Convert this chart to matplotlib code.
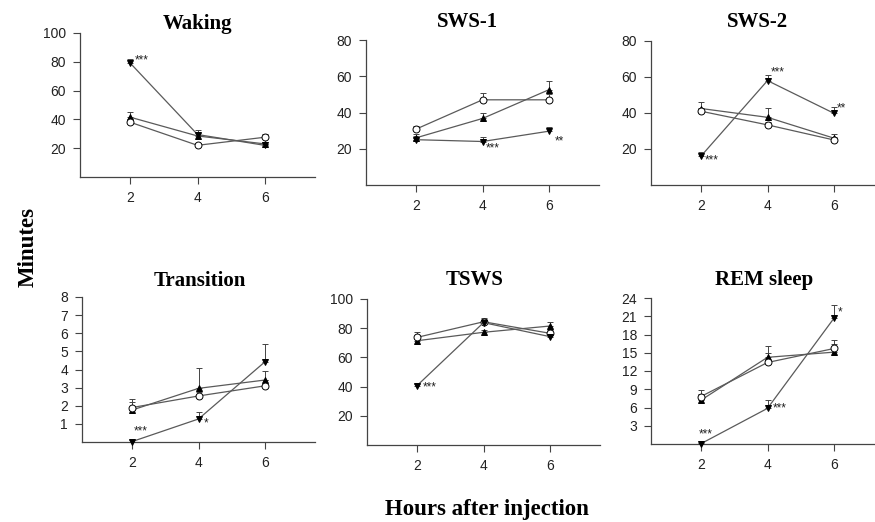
import matplotlib.pyplot as plt
import numpy as np

plt.rcParams['font.family'] = ['Liberation Sans', 'DejaVu Sans']

hours = [2, 4, 6]

# each panel: control (open circle), up-triangle group, down-triangle group
titles = ['Waking', 'SWS-1', 'SWS-2', 'Transition', 'TSWS', 'REM sleep']

circle_vals = [[38, 22, 27.6], [30.8, 47, 47], [41, 33.4, 25],
               [1.9, 2.54, 3.1], [73.7, 84.4, 76.5], [7.8, 13.4, 15.7]]
circle_err = [[2, 1.5, 2.5], [2, 3.5, 3], [2, 1.5, 1.5],
              [0.3, 0.2, 0.3], [4, 2, 2], [1, 1.5, 1.4]]

up_vals = [[41.5, 28.5, 23], [26, 36.7, 52.6], [42.5, 37.6, 26],
           [1.76, 2.96, 3.42], [71.4, 77.2, 81.5], [7.2, 14.25, 15.1]]
up_err = [[3.5, 2, 1.5], [2, 3.3, 5], [3.8, 5, 2.6],
          [0.6, 1.15, 0.5], [1.5, 1.5, 3], [1, 1.8, 1.4]]

down_vals = [[79, 29.5, 22], [25, 24, 29.7], [16, 58, 39.8],
             [0.02, 1.27, 4.43], [40.6, 83.8, 74.2], [0.05, 5.86, 20.7]]
down_err = [[3, 3, 1], [2, 2.5, 2.4], [2.4, 3, 3.3],
            [0.1, 0.4, 1.0], [1.5, 3, 1.5], [0.1, 1.3, 2.2]]

ytops = [100, 80, 80, 8, 100, 24]
yticks = [[20, 40, 60, 80, 100], [20, 40, 60, 80], [20, 40, 60, 80],
          [1, 2, 3, 4, 5, 6, 7, 8], [20, 40, 60, 80, 100],
          [3, 6, 9, 12, 15, 18, 21, 24]]

# significance stars on the down-triangle group: (panel, point index, text, dx px, dy px, ha)
stars = [(0, 0, '***', 4, 3, 'left'),
         (1, 1, '***', 3, -7, 'left'), (1, 2, '**', 6, -10, 'left'),
         (2, 0, '***', 4, -4, 'left'), (2, 1, '***', 3, 8, 'left'), (2, 2, '**', 3, 5, 'left'),
         (3, 0, '***', 9, 10, 'center'), (3, 1, '*', 5, -4, 'left'),
         (4, 0, '***', 6, -2, 'left'),
         (5, 0, '***', 5, 9, 'center'), (5, 1, '***', 5, 0, 'left'), (5, 2, '*', 4, 6, 'left')]

W, H = 875, 522
# pixel boxes: left, right, top, bottom
boxes = [(80, 315, 33, 177), (366, 599, 40, 185), (651, 884, 41, 185),
         (82, 315, 297, 442), (367, 600, 299, 445), (651, 884, 298, 444)]
# title centres in pixels
title_pos = [(198, 24), (467, 22), (757, 22), (200, 281), (475, 280), (764, 280)]

fig = plt.figure(figsize=(W / 100, H / 100), dpi=100)
line_c = '#5a5a5a'
axes = []
for i, (l, r, t, b) in enumerate(boxes):
    ax = fig.add_axes([l / W, (H - b) / H, (r - l) / W, (b - t) / H])
    axes.append(ax)
    for vals, errs, mk, fc in [(up_vals[i], up_err[i], '^', 'black'),
                               (circle_vals[i], circle_err[i], 'o', 'white'),
                               (down_vals[i], down_err[i], 'v', 'black')]:
        ax.errorbar(hours, vals, yerr=[np.zeros(3), errs], color=line_c, lw=0.9,
                    marker=mk, ms=4.5 if mk != 'o' else 5, mfc=fc, mec='black', mew=0.7,
                    ecolor='#444444', elinewidth=0.7, capsize=2, capthick=0.7,
                    clip_on=False, zorder=3)
    ax.set_xlim(0.5, 7.5)
    ax.set_ylim(0, ytops[i])
    ax.set_xticks(hours)
    ax.set_yticks(yticks[i])
    ax.spines['top'].set_visible(False)
    ax.spines['right'].set_visible(False)
    for s in ['left', 'bottom']:
        ax.spines[s].set_color('#444444')
        ax.spines[s].set_linewidth(0.9)
    ax.tick_params(length=5, width=0.8, color='#444444', labelsize=10,
                   labelcolor='#222222')
    ax.tick_params(axis='x', pad=5)
    ax.tick_params(axis='y', pad=5)
    fig.text(title_pos[i][0] / W, 1 - title_pos[i][1] / H, titles[i], fontsize=15,
             fontweight='bold', family='Liberation Serif', ha='center', va='center')

for p, j, txt, dx, dy, ha in stars:
    axes[p].annotate(txt, (hours[j], down_vals[p][j]), xytext=(dx, dy),
                     textcoords='offset pixels', fontsize=8.5, ha=ha, va='center',
                     color='#222222')

fig.text(28 / W, 1 - 247 / H, 'Minutes', rotation=90, fontsize=16.5, fontweight='bold',
         family='Liberation Serif', ha='center', va='center')
fig.text(487 / W, 1 - 510 / H, 'Hours after injection', fontsize=16.5, fontweight='bold',
         family='Liberation Serif', ha='center', va='center')

fig.savefig('out.png', dpi=100)
